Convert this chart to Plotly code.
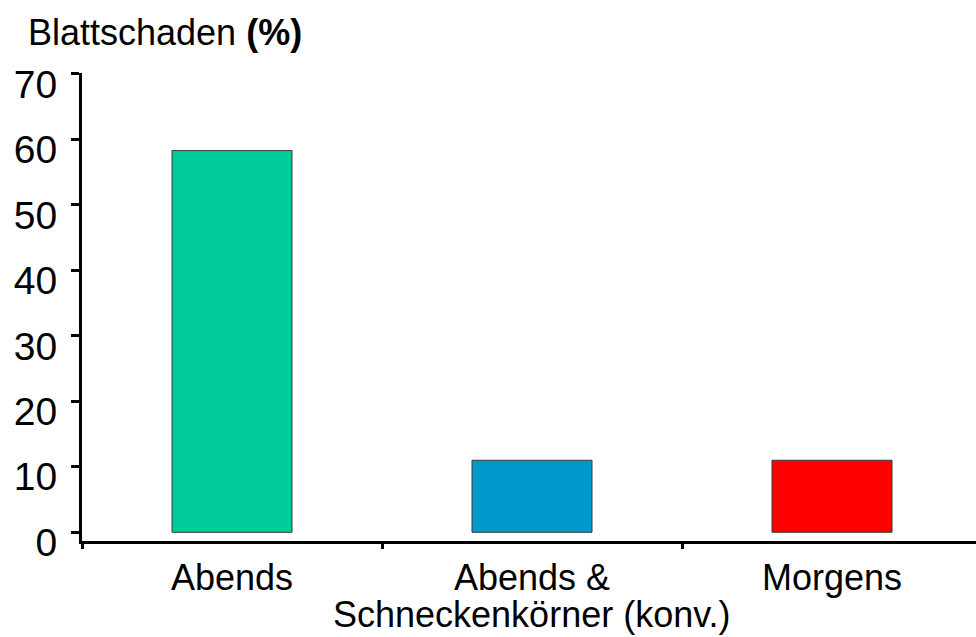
import plotly.graph_objects as go

# Leaf damage by time of watering
categories = ["Abends", "Abends &\nSchneckenkörner (konv.)", "Morgens"]
values = [58.3, 11.0, 11.0]
bar_colors = ["#00CC99", "#0099CC", "#FF0000"]
y_ticks = [0, 10, 20, 30, 40, 50, 60, 70]

FONT = "Liberation Sans, Arial, sans-serif"

fig = go.Figure(
    go.Bar(
        x=categories,
        y=values,
        width=0.4,
        marker=dict(color=bar_colors, line=dict(color="#3a3a3a", width=1)),
        hoverinfo="skip",
    )
)

# Category labels, one annotation per text line
annotations = []
for cat in categories:
    for i, line in enumerate(cat.split("\n")):
        annotations.append(dict(
            x=cat, xref="x", y=0, yref="paper",
            text=line, showarrow=False,
            xanchor="center", yanchor="middle",
            yshift=-36 - 37 * i,
            font=dict(family=FONT, size=36, color="#000000"),
        ))

fig.update_layout(
    width=976, height=637,
    margin=dict(l=82, r=0, t=73, b=96),
    paper_bgcolor="white", plot_bgcolor="white",
    showlegend=False,
    bargap=0.6,
    title=dict(
        text="Blattschaden <b>(%)</b>",
        x=28 / 976, xref="container", xanchor="left",
        y=1 - 20 / 637, yref="container", yanchor="top",
        font=dict(family=FONT, size=36, color="#000000"),
    ),
    annotations=annotations,
    xaxis=dict(
        type="category",
        range=[-0.5, 2.48],
        showgrid=False, zeroline=False,
        showline=True, linecolor="#000000", linewidth=3,
        ticks="outside", tickson="boundaries", ticklen=5, tickwidth=3, tickcolor="#000000",
        showticklabels=False,
    ),
    yaxis=dict(
        range=[-1.33, 70.15],
        tickvals=y_ticks,
        showgrid=False, zeroline=False,
        showline=True, linecolor="#000000", linewidth=3,
        ticks="outside", ticklen=8, tickwidth=3, tickcolor="#000000",
        ticklabelstandoff=6, ticklabelshift=10,
        tickfont=dict(family=FONT, size=39, color="#000000"),
    ),
)

fig.write_html("out.html")
